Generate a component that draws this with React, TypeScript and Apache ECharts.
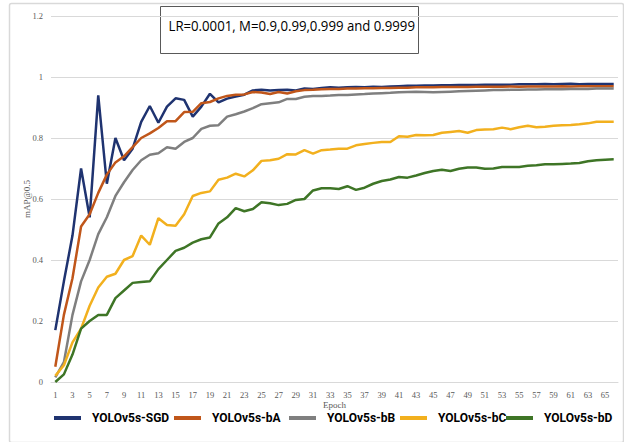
import { useEffect, useRef } from "react";
import * as echarts from "echarts";

// Epoch categories along the x axis
const epochs = [
  "1", "2", "3", "4", "5", "6", "7", "8", "9", "10", "11", "12", "13", "14", "15", "16", "17", "18", "19", "20", "21", "22",
  "23", "24", "25", "26", "27", "28", "29", "30", "31", "32", "33", "34", "35", "36", "37", "38", "39", "40", "41", "42", "43", "44",
  "45", "46", "47", "48", "49", "50", "51", "52", "53", "54", "55", "56", "57", "58", "59", "60", "61", "62", "63", "64", "65", "66",
];

// mAP@0.5 per epoch for each optimiser setting
const sgd = [
  0.17, 0.33, 0.48, 0.70, 0.54, 0.94, 0.65, 0.80, 0.727, 0.765, 0.853, 0.905, 0.85, 0.903, 0.93, 0.925, 0.870, 0.903, 0.945, 0.917, 0.929, 0.936,
  0.942, 0.956, 0.958, 0.956, 0.957, 0.958, 0.956, 0.962, 0.961, 0.964, 0.966, 0.965, 0.966, 0.967, 0.966, 0.968, 0.967, 0.969, 0.970, 0.971,
  0.971, 0.972, 0.972, 0.973, 0.973, 0.974, 0.974, 0.974, 0.975, 0.975, 0.975, 0.975, 0.976, 0.976, 0.976, 0.977, 0.976, 0.977, 0.978, 0.976,
  0.977, 0.977, 0.977, 0.977,
];
const bA = [
  0.05, 0.22, 0.34, 0.51, 0.55, 0.62, 0.68, 0.72, 0.74, 0.77, 0.80, 0.815, 0.833, 0.855, 0.855, 0.885, 0.886, 0.914, 0.918, 0.930, 0.938, 0.942,
  0.943, 0.951, 0.949, 0.944, 0.951, 0.946, 0.953, 0.957, 0.958, 0.960, 0.961, 0.961, 0.962, 0.962, 0.963, 0.963, 0.964, 0.964, 0.965, 0.965,
  0.966, 0.966, 0.966, 0.967, 0.967, 0.967, 0.967, 0.968, 0.968, 0.968, 0.968, 0.969, 0.968, 0.969, 0.969, 0.969, 0.969, 0.970, 0.969, 0.970,
  0.970, 0.970, 0.970, 0.970,
];
const bB = [
  0.015, 0.065, 0.22, 0.33, 0.40, 0.485, 0.54, 0.61, 0.655, 0.695, 0.727, 0.745, 0.75, 0.77, 0.765, 0.787, 0.80, 0.83, 0.84, 0.842, 0.870, 0.878,
  0.887, 0.898, 0.911, 0.914, 0.917, 0.928, 0.928, 0.935, 0.938, 0.938, 0.939, 0.941, 0.941, 0.943, 0.944, 0.946, 0.947, 0.948, 0.950, 0.951,
  0.952, 0.951, 0.950, 0.951, 0.952, 0.953, 0.954, 0.955, 0.956, 0.957, 0.957, 0.958, 0.958, 0.959, 0.959, 0.960, 0.960, 0.960, 0.961, 0.961,
  0.961, 0.962, 0.962, 0.962,
];
const bC = [
  0.02, 0.055, 0.13, 0.175, 0.25, 0.31, 0.345, 0.355, 0.40, 0.413, 0.48, 0.45, 0.537, 0.515, 0.512, 0.55, 0.61, 0.62, 0.625, 0.663, 0.67, 0.683,
  0.674, 0.694, 0.725, 0.727, 0.732, 0.747, 0.746, 0.76, 0.749, 0.76, 0.762, 0.765, 0.765, 0.776, 0.78, 0.784, 0.787, 0.787, 0.806, 0.804,
  0.81, 0.809, 0.81, 0.817, 0.82, 0.823, 0.817, 0.826, 0.828, 0.829, 0.834, 0.829, 0.835, 0.84, 0.835, 0.837, 0.84, 0.842, 0.843, 0.845,
  0.848, 0.853, 0.853, 0.853,
];
const bD = [
  0.0, 0.025, 0.09, 0.175, 0.2, 0.22, 0.22, 0.275, 0.30, 0.325, 0.328, 0.33, 0.37, 0.40, 0.43, 0.44, 0.457, 0.468, 0.474, 0.52, 0.54, 0.57,
  0.56, 0.567, 0.589, 0.586, 0.58, 0.584, 0.597, 0.6, 0.628, 0.635, 0.635, 0.633, 0.642, 0.63, 0.637, 0.65, 0.659, 0.664, 0.672, 0.67,
  0.677, 0.685, 0.692, 0.696, 0.692, 0.699, 0.703, 0.703, 0.699, 0.700, 0.705, 0.705, 0.705, 0.709, 0.711, 0.714, 0.714, 0.715, 0.716, 0.718,
  0.724, 0.727, 0.729, 0.73,
];

const seriesNames = ["YOLOv5s-SGD", "YOLOv5s-bA", "YOLOv5s-bB", "YOLOv5s-bC", "YOLOv5s-bD"];
const seriesData = [sgd, bA, bB, bC, bD];
const colors = ["#1F3370", "#C0561A", "#7F7F7F", "#F2B01E", "#3E7526"];
const legendLefts = [54, 174, 289, 400, 506];

const titleText = "LR=0.0001, M=0.9,0.99,0.999 and 0.9999";

export default function App() {
  const ref = useRef<HTMLDivElement>(null);

  useEffect(() => {
    if (!ref.current) return;
    const chart = echarts.init(ref.current, null, { renderer: "svg" });
    const tickFont = "'Liberation Serif', serif";
    chart.setOption({
      animation: false,
      backgroundColor: "#ffffff",
      grid: { left: 51, right: 6, top: 16, bottom: 60 },
      xAxis: {
        type: "category",
        data: epochs,
        boundaryGap: true,
        name: "Epoch",
        nameLocation: "middle",
        nameGap: 18,
        nameMoveOverlap: false,
        nameTextStyle: { fontSize: 9, color: "#595959", fontFamily: tickFont },
        axisLine: { lineStyle: { color: "#d9d9d9", width: 1 } },
        axisTick: { show: false },
        axisLabel: { interval: 1, fontSize: 8.5, color: "#595959", fontFamily: tickFont, margin: 8 },
        splitLine: { show: false },
      },
      yAxis: {
        type: "value",
        min: 0,
        max: 1.2,
        interval: 0.2,
        name: "mAP@0.5",
        nameLocation: "middle",
        nameRotate: 90,
        nameGap: 20,
        nameMoveOverlap: false,
        nameTextStyle: { fontSize: 9, color: "#595959", fontFamily: tickFont },
        axisLine: { show: false },
        axisTick: { show: false },
        axisLabel: { fontSize: 8.5, color: "#595959", fontFamily: tickFont, margin: 8 },
        splitLine: { lineStyle: { color: "#d9d9d9", width: 1 } },
      },
      legend: seriesNames.map((name, i) => ({
        data: [name],
        left: legendLefts[i],
        top: 412,
        padding: 0,
        icon: "rect",
        itemWidth: 27,
        itemHeight: 4,
        textStyle: {
          fontSize: 12,
          fontWeight: "bold",
          color: "#000",
          fontFamily: "Roboto, sans-serif",
          padding: [0, 0, 0, 6],
        },
      })),
      series: seriesNames.map((name, i) => ({
        name,
        type: "line",
        data: seriesData[i],
        showSymbol: false,
        symbol: "none",
        smooth: false,
        color: colors[i],
        lineStyle: { width: 2.5, color: colors[i] },
      })),
      graphic: [
        {
          type: "rect",
          left: 7,
          top: 1,
          shape: { width: 614, height: 439, r: 2 },
          style: { fill: "none", stroke: "#d9d9d9", lineWidth: 1.5 },
          silent: true,
          z: -1,
        },
        {
          type: "group",
          left: 160,
          top: 6,
          children: [
            {
              type: "rect",
              shape: { x: 0, y: 0, width: 258, height: 47 },
              style: { fill: "#ffffff", stroke: "#595959", lineWidth: 1 },
            },
            {
              type: "text",
              x: 8,
              y: 19,
              scaleX: 0.88,
              style: {
                text: titleText,
                fontSize: 15,
                fontFamily: "'Open Sans', sans-serif",
                fill: "#000",
                textVerticalAlign: "middle",
              },
            },
          ],
        },
      ],
    });
    return () => chart.dispose();
  }, []);

  return (
    <div
      ref={ref}
      style={{ position: "fixed", left: 0, top: 0, width: 624, height: 442, background: "#fff" }}
    />
  );
}
